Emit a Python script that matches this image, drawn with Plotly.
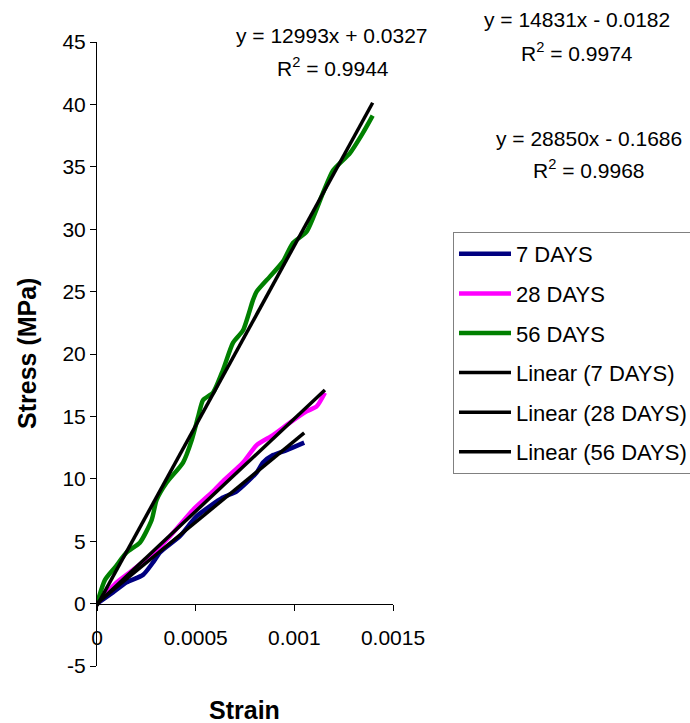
import plotly.graph_objects as go

# ---- data ----
strain_7 = [0, 0.0000811, 0.000150, 0.000233, 0.000284, 0.000319, 0.000420, 0.000505,
            0.000638, 0.000708, 0.000809, 0.000841, 0.000892, 0.000961, 0.001050]
stress_7 = [0, 0.9, 1.7, 2.3, 3.3, 4.1, 5.4, 7.0, 8.5, 9.0, 10.5, 11.3, 11.9, 12.3, 12.9]

strain_28 = [0, 0.0000998, 0.000182, 0.000268, 0.000370, 0.000486, 0.000588, 0.000638,
             0.000740, 0.000809, 0.000892, 0.000978, 0.001062, 0.001113, 0.001155]
stress_28 = [0, 1.7, 2.7, 3.8, 5.4, 7.5, 9.0, 9.8, 11.3, 12.7, 13.5, 14.5, 15.4, 15.8, 16.9]

strain_56 = [0, 0.0000405, 0.0000912, 0.000150, 0.000218, 0.000277, 0.000302, 0.000353,
             0.000436, 0.000480, 0.000513, 0.000537, 0.000588, 0.000638, 0.000689, 0.000740,
             0.000790, 0.000809, 0.000876, 0.000942, 0.000993, 0.001062, 0.001145, 0.001196,
             0.001282, 0.001347, 0.001397]
stress_56 = [0, 1.9, 2.9, 4.1, 4.9, 6.7, 8.3, 9.7, 11.3, 13.1, 15.0, 16.3, 16.9, 18.7, 20.9,
             21.9, 24.3, 25.0, 26.2, 27.4, 28.9, 29.8, 32.9, 34.7, 36.1, 37.7, 39.1]

series_names = ["7 DAYS", "28 DAYS", "56 DAYS"]
series_colors = ["#000080", "#FF00FF", "#008000"]
fit_slopes = [12993, 14831, 28850]
fit_intercepts = [0.0327, -0.0182, -0.1686]
fit_r2 = [0.9944, 0.9974, 0.9968]

x_tickvals = [0, 0.0005, 0.001, 0.0015]
x_ticktext = ["0", "0.0005", "0.001", "0.0015"]
y_tickvals = [-5, 0, 5, 10, 15, 20, 25, 30, 35, 40, 45]
y_ticktext = ["-5", "0", "5", "10", "15", "20", "25", "30", "35", "40", "45"]

xs = [strain_7, strain_28, strain_56]
ys = [stress_7, stress_28, stress_56]

# ---- layout geometry (pixels) ----
W, H = 690, 723
L, R, T, B = 97, 393, 42, 666


def px_x(p):
    return (p - L) / (R - L)


def px_y(p):
    return (B - p) / (B - T)


FONT = "Liberation Sans, Arial, sans-serif"

fig = go.Figure()

for i in range(3):
    fig.add_trace(go.Scatter(
        x=xs[i], y=ys[i], mode="lines", name=series_names[i],
        line=dict(color=series_colors[i], width=4.5, shape="spline", smoothing=0.6),
        legendgroup="g%d" % i,
    ))

for i in range(3):
    x0, x1 = 0, max(xs[i])
    fig.add_trace(go.Scatter(
        x=[x0, x1],
        y=[fit_slopes[i] * x0 + fit_intercepts[i], fit_slopes[i] * x1 + fit_intercepts[i]],
        mode="lines", name="Linear (%s)" % series_names[i],
        line=dict(color="black", width=3.5),
        legendgroup="f%d" % i,
    ))


def eq_text(i):
    b = fit_intercepts[i]
    sign = "+" if b >= 0 else "-"
    return "y = %dx %s %.4f" % (fit_slopes[i], sign, abs(b))


# equation label positions (pixels, centre) for 7, 28, 56 days
eq_pos = [(332, 35, 333, 67), (577, 20, 577, 52), (589, 138, 589, 169)]

annotations = []
for i in range(3):
    ex, ey, rx, ry = eq_pos[i]
    annotations.append(dict(x=px_x(ex), y=px_y(ey), xref="paper", yref="paper",
                            text=eq_text(i), showarrow=False, xanchor="center", yanchor="middle",
                            font=dict(family=FONT, size=21, color="black")))
    annotations.append(dict(x=px_x(rx), y=px_y(ry), xref="paper", yref="paper",
                            text="R<sup>2</sup> = %.4f" % fit_r2[i], showarrow=False,
                            xanchor="center", yanchor="middle",
                            font=dict(family=FONT, size=21, color="black")))

annotations.append(dict(x=px_x(27), y=px_y(354), xref="paper", yref="paper",
                        text="<b>Stress (MPa)</b>", textangle=-90, showarrow=False,
                        xanchor="center", yanchor="middle",
                        font=dict(family=FONT, size=25, color="black")))
annotations.append(dict(x=px_x(244), y=px_y(710), xref="paper", yref="paper",
                        text="<b>Strain</b>", showarrow=False,
                        xanchor="center", yanchor="middle",
                        font=dict(family=FONT, size=25, color="black")))

fig.update_layout(
    width=W, height=H,
    margin=dict(l=L, r=W - R, t=T, b=H - B, pad=0),
    paper_bgcolor="white", plot_bgcolor="white",
    font=dict(family=FONT, size=20, color="black"),
    showlegend=True,
    legend=dict(
        xref="container", yref="container",
        x=453 / W, y=1 - 232 / H, xanchor="left", yanchor="top",
        bgcolor="white", bordercolor="#808080", borderwidth=1,
        font=dict(family=FONT, size=22, color="black"),
        tracegroupgap=8, itemwidth=52,
    ),
    annotations=annotations,
    xaxis=dict(
        range=[0, 0.0015], anchor="free", position=(0 - (-5)) / 50,
        showline=True, linecolor="black", linewidth=1,
        ticks="outside", ticklen=6, tickcolor="black", tickwidth=1,
        tickvals=x_tickvals, ticktext=x_ticktext,
        showgrid=False, zeroline=False, ticklabelstandoff=9,
        tickfont=dict(family=FONT, size=21, color="black"),
    ),
    yaxis=dict(
        range=[-5, 45], domain=[0, 1],
        showline=True, linecolor="black", linewidth=1,
        ticks="outside", ticklen=6, tickcolor="black", tickwidth=1,
        tickvals=y_tickvals, ticktext=y_ticktext,
        showgrid=False, zeroline=False,
        tickfont=dict(family=FONT, size=21, color="black"),
    ),
)

fig.write_html("out.html")
